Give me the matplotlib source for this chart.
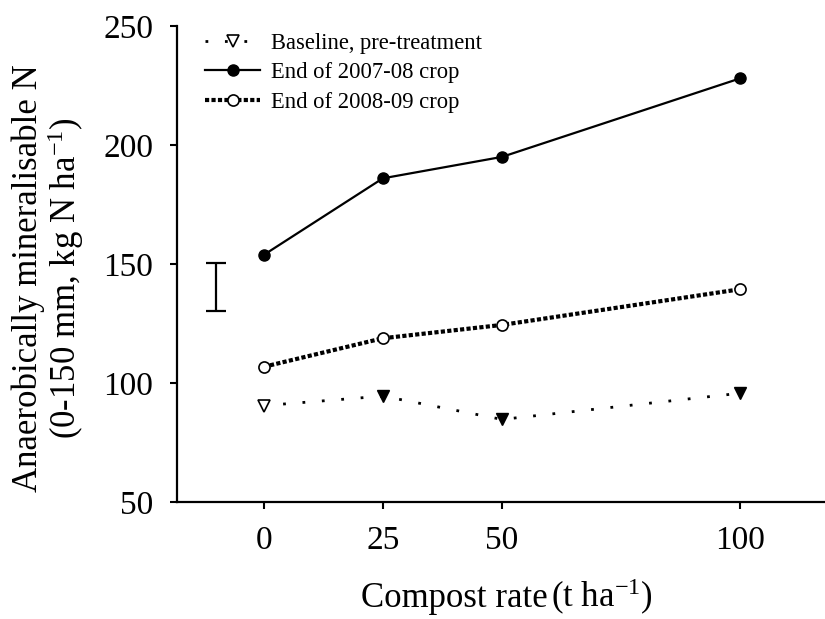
import matplotlib
matplotlib.use("Agg")
import matplotlib.pyplot as plt

plt.rcParams['font.family'] = ['Liberation Serif', 'DejaVu Serif']
plt.rcParams['mathtext.fontset'] = 'custom'
plt.rcParams['mathtext.rm'] = 'Liberation Serif'
plt.rcParams['mathtext.it'] = 'Liberation Serif:italic'

# Data
rates = [0, 25, 50, 100]
baseline = [90.5, 94.5, 84.7, 95.7]
end_2007_08 = [153.8, 186.0, 195.0, 228.0]
end_2008_09 = [106.8, 118.8, 124.4, 139.4]
lsd_x = -10
lsd_center = 140.4
lsd_half = 10.1

labels = ["Baseline, pre-treatment", "End of 2007-08 crop", "End of 2008-09 crop"]
xticks = [0, 25, 50, 100]
yticks = [50, 100, 150, 200, 250]

fig = plt.figure(figsize=(8.25, 6.19), dpi=100)
ax = fig.add_axes([177/825, 1 - 502/619, 1 - 177/825, (502 - 26)/619])

# Baseline: dotted line, first marker open, others filled
ax.plot(rates, baseline, color='black', lw=2.0, linestyle=(0, (1, 6)),
        marker='v', markersize=9, markerfacecolor='white', markeredgecolor='black',
        markeredgewidth=1.2, markevery=[0], label=labels[0], dash_capstyle='butt')
ax.plot(rates[1:], baseline[1:], linestyle='none', marker='v', markersize=9,
        markerfacecolor='black', markeredgecolor='black')

ax.plot(rates, end_2007_08, color='black', lw=1.6, marker='o', markersize=8,
        markerfacecolor='black', markeredgecolor='black', label=labels[1])

ax.plot(rates, end_2008_09, color='black', lw=3.0, linestyle=(0, (1, 0.55)),
        marker='o', markersize=8, markerfacecolor='white', markeredgecolor='black',
        markeredgewidth=1.2, label=labels[2], dash_capstyle='butt')

# LSD bar
ax.errorbar([lsd_x], [lsd_center], yerr=[lsd_half], color='black', lw=1.6,
            capsize=7, capthick=1.6, fmt='none')

ax.set_xlim(-18.2, 117.8)
ax.set_ylim(50, 250)
ax.set_xticks(xticks)
ax.set_yticks(yticks)
ax.tick_params(axis='both', direction='out', length=5, width=1.5, labelsize=24, pad=12)

for s in ['top', 'right']:
    ax.spines[s].set_visible(False)
for s in ['left', 'bottom']:
    ax.spines[s].set_linewidth(1.6)

leg = ax.legend(loc='upper left', bbox_to_anchor=(0.03, 1.005), frameon=False,
                fontsize=16.3, handlelength=2.4, handletextpad=0.5, labelspacing=0.38,
                borderaxespad=0)

# Y label (two lines)
fig.text(28/825, 1 - 278/619, "Anaerobically mineralisable N", rotation=90,
         ha='center', va='center', fontsize=25)
fig.text(66/825, 1 - 278/619, "(0-150 mm, kg N ha$^{-1}$)", rotation=90,
         ha='center', va='center', fontsize=25)

# X label
fig.text(548/825, 1 - 607/619, "Compost rate", ha='right', va='baseline', fontsize=25)
fig.text(551/825, 1 - 607/619, "(t ha$^{-1}$)", ha='left', va='baseline', fontsize=25)

fig.savefig("out.png", dpi=100)
